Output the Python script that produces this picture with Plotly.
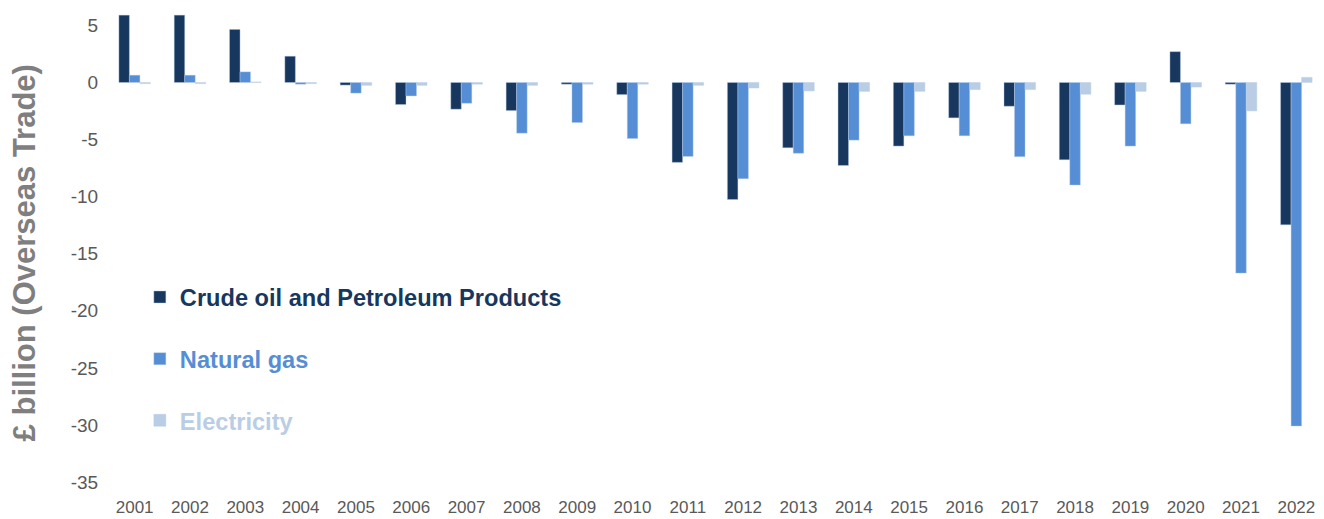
import plotly.graph_objects as go

years = [str(y) for y in range(2001, 2023)]

crude_oil = [5.9, 5.9, 4.65, 2.3, -0.23, -1.93, -2.34, -2.46, -0.15, -1.06,
             -7.0, -10.25, -5.72, -7.27, -5.57, -3.1, -2.08, -6.77, -1.97, 2.7,
             -0.15, -12.47]
natural_gas = [0.64, 0.64, 0.93, -0.15, -0.93, -1.18, -1.82, -4.44, -3.51, -4.91,
               -6.48, -8.43, -6.2, -5.05, -4.67, -4.67, -6.5, -8.98, -5.57, -3.62,
               -16.7, -30.1]
electricity = [-0.1, -0.1, 0.05, -0.1, -0.25, -0.25, -0.15, -0.25, -0.15, -0.15,
               -0.25, -0.48, -0.74, -0.78, -0.78, -0.62, -0.62, -1.03, -0.78, -0.4,
               -2.49, 0.45]

y_ticks = [5, 0, -5, -10, -15, -20, -25, -30, -35]
y_tick_labels = [str(v) for v in y_ticks]  # plain hyphen-minus

series = [
    ("Crude oil and Petroleum Products", crude_oil, "#17375E"),
    ("Natural gas", natural_gas, "#558ED5"),
    ("Electricity", electricity, "#B9CDE5"),
]

fig = go.Figure()
for i, (name, vals, color) in enumerate(series):
    fig.add_trace(go.Bar(
        x=years, y=vals,
        name=f"<b><span style='color:{color}'>{name}</span></b>",
        marker=dict(color=color, line=dict(width=0.6, color="rgba(185,205,229,0.7)")),
        legendgroup=f"g{i}",
    ))

fig.update_layout(
    width=1324, height=519,
    margin=dict(l=107, r=0, t=14, b=37),
    paper_bgcolor="white", plot_bgcolor="white",
    barmode="group", bargap=0.43, bargroupgap=0,
    font=dict(family="Liberation Sans, Arial, sans-serif", color="#595959"),
    showlegend=True,
    legend=dict(
        x=0.027, y=0.442, xanchor="left", yanchor="top",
        font=dict(size=23.6), tracegroupgap=28,
        bgcolor="rgba(0,0,0,0)", itemclick=False,
    ),
    xaxis=dict(
        showgrid=False, showline=False, zeroline=False,
        ticks="outside", ticklen=10, tickcolor="rgba(0,0,0,0)",
        tickfont=dict(size=17, color="#595959"),
    ),
    yaxis=dict(
        range=[-35, 6], tickvals=y_ticks, ticktext=y_tick_labels,
        showgrid=False, showline=False, zeroline=False,
        ticks="outside", ticklen=4, tickcolor="rgba(0,0,0,0)",
        tickfont=dict(size=19, color="#595959"),
    ),
    annotations=[dict(
        text="<b>£ billion (Overseas Trade)</b>",
        xref="paper", yref="paper", x=-0.068, y=0.489,
        xanchor="center", yanchor="middle", textangle=-90,
        showarrow=False, font=dict(size=31, color="#7F7F7F"),
    )],
)

fig.write_html("out.html")
